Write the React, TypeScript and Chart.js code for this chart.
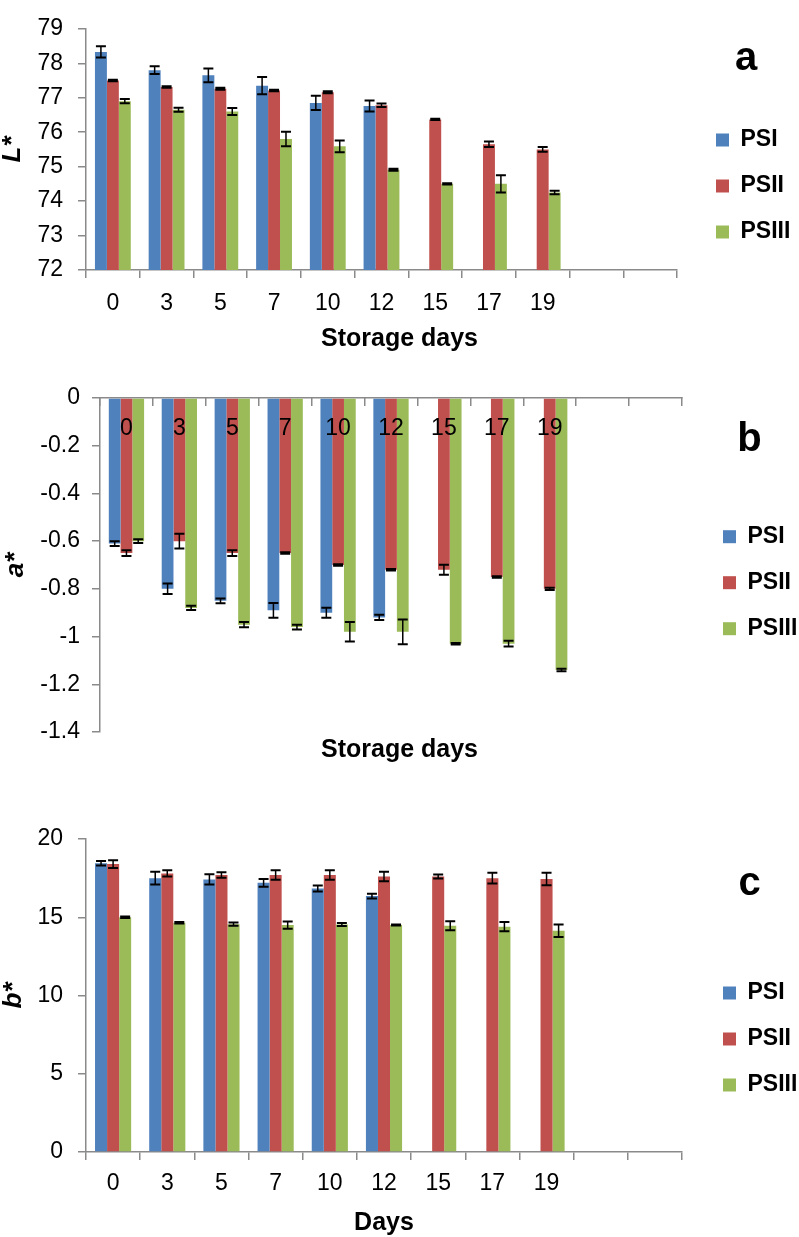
import React, { useEffect, useRef } from 'react';
import { Chart, registerables } from 'chart.js';

Chart.register(...registerables);

// ---------------- DATA ----------------
const storageDays = ['0', '3', '5', '7', '10', '12', '15', '17', '19', '', ''];
const seriesNames = ['PSI', 'PSII', 'PSIII'];

// Panel a: L*
const lStarPSI = [78.33, 77.8, 77.65, 77.35, 76.85, 76.76, null, null, null, null, null];
const lStarPSIErr = [0.16, 0.11, 0.2, 0.25, 0.21, 0.16, null, null, null, null, null];
const lStarPSII = [77.5, 77.31, 77.26, 77.21, 77.16, 76.78, 76.37, 75.65, 75.5, null, null];
const lStarPSIIErr = [0.02, 0.02, 0.03, 0.02, 0.03, 0.05, 0.02, 0.08, 0.07, null, null];
const lStarPSIII = [76.9, 76.65, 76.6, 75.8, 75.59, 74.91, 74.5, 74.5, 74.25, null, null];
const lStarPSIIIErr = [0.06, 0.06, 0.1, 0.21, 0.17, 0.03, 0.02, 0.25, 0.05, null, null];

// Panel b: a*
const aStarPSI = [-0.61, -0.8, -0.85, -0.89, -0.9, -0.92, null, null, null, null, null];
const aStarPSIErr = [0.01, 0.022, 0.01, 0.031, 0.021, 0.011, null, null, null, null, null];
const aStarPSII = [-0.65, -0.6, -0.65, -0.65, -0.7, -0.72, -0.72, -0.75, -0.8, null, null];
const aStarPSIIErr = [0.012, 0.031, 0.012, 0.003, 0.003, 0.003, 0.021, 0.003, 0.005, null, null];
const aStarPSIII = [-0.6, -0.88, -0.95, -0.96, -0.98, -0.98, -1.03, -1.03, -1.14, null, null];
const aStarPSIIIErr = [0.008, 0.009, 0.011, 0.01, 0.041, 0.052, 0.003, 0.012, 0.005, null, null];

// Panel c: b*
const bStarPSI = [18.45, 17.5, 17.42, 17.2, 16.84, 16.35, null, null, null, null, null];
const bStarPSIErr = [0.15, 0.4, 0.33, 0.25, 0.19, 0.15, null, null, null, null, null];
const bStarPSII = [18.4, 17.8, 17.7, 17.7, 17.7, 17.6, 17.6, 17.5, 17.44, null, null];
const bStarPSIIErr = [0.25, 0.2, 0.17, 0.3, 0.3, 0.3, 0.13, 0.35, 0.4, null, null];
const bStarPSIII = [15.0, 14.65, 14.56, 14.5, 14.54, 14.5, 14.46, 14.4, 14.14, null, null];
const bStarPSIIIErr = [0.05, 0.05, 0.1, 0.23, 0.1, 0.03, 0.29, 0.3, 0.4, null, null];

// ---------------- STYLE ----------------
const FONT = "'Liberation Sans', Arial, Helvetica, sans-serif";
const AXIS_COLOR = '#8a8a8a';
const SERIES_COLORS = ['#4F81BD', '#C0504D', '#9BBB59'];

Chart.defaults.font.family = FONT;
Chart.defaults.color = '#000';

const errorBarPlugin = {
  id: 'errorBars',
  afterDatasetsDraw(chart: any) {
    const ctx = chart.ctx;
    const yScale = chart.scales.y;
    chart.data.datasets.forEach((ds: any, di: number) => {
      const meta = chart.getDatasetMeta(di);
      const errs = ds.errors || [];
      meta.data.forEach((bar: any, i: number) => {
        const v = ds.data[i];
        const e = errs[i];
        if (v == null || e == null) return;
        const x = bar.x;
        const yTop = yScale.getPixelForValue(v + e);
        const yBot = yScale.getPixelForValue(v - e);
        const cap = 5;
        ctx.save();
        ctx.strokeStyle = '#000';
        ctx.lineWidth = 1.5;
        ctx.beginPath();
        ctx.moveTo(x, yTop);
        ctx.lineTo(x, yBot);
        ctx.stroke();
        ctx.lineWidth = 2;
        ctx.beginPath();
        ctx.moveTo(x - cap, yTop);
        ctx.lineTo(x + cap, yTop);
        ctx.moveTo(x - cap, yBot);
        ctx.lineTo(x + cap, yBot);
        ctx.stroke();
        ctx.restore();
      });
    });
  },
};

type PanelSpec = {
  key: string;
  top: number;
  height: number;
  values: (number | null)[][];
  errors: (number | null)[][];
  yMin: number;
  yMax: number;
  yStep: number;
  yDecimals: number;
  yTitle: string;
  yTitlePad: number;
  yAxisWidth: number;
  yTickPad: number;
  xTop: boolean;
  xTitle: string;
  xTitleAsChartTitle: boolean;
  chartTitlePad: { top: number; bottom: number };
  padTop: number;
  padBottom: number;
  xAxisHeight: number;
  xTickPad: number;
  rightGap: number;
  legendMaxWidth: number;
  letter: string;
  letterPadTop: number;
  letterPadBottom: number;
};

const panels: PanelSpec[] = [
  {
    key: 'a', top: 0, height: 360,
    values: [lStarPSI, lStarPSII, lStarPSIII],
    errors: [lStarPSIErr, lStarPSIIErr, lStarPSIIIErr],
    yMin: 72, yMax: 79, yStep: 1, yDecimals: 0,
    yTitle: 'L*', yTitlePad: 0, yAxisWidth: 86, yTickPad: 15,
    xTop: false, xTitle: 'Storage days', xTitleAsChartTitle: true,
    chartTitlePad: { top: 6.5, bottom: 8.5 },
    padTop: 15, padBottom: 0, xAxisHeight: 50, xTickPad: 11.7,
    rightGap: 16, legendMaxWidth: 106,
    letter: 'a', letterPadTop: 23.5, letterPadBottom: 27,
  },
  {
    key: 'b', top: 360, height: 420,
    values: [aStarPSI, aStarPSII, aStarPSIII],
    errors: [aStarPSIErr, aStarPSIIErr, aStarPSIIIErr],
    yMin: -1.4, yMax: 0, yStep: 0.2, yDecimals: 1,
    yTitle: 'a*', yTitlePad: 3, yAxisWidth: 100, yTickPad: 12,
    xTop: true, xTitle: 'Storage days', xTitleAsChartTitle: true,
    chartTitlePad: { top: 5.5, bottom: 17.5 },
    padTop: 36, padBottom: 0, xAxisHeight: 2, xTickPad: 16.7,
    rightGap: 18, legendMaxWidth: 99,
    letter: 'b', letterPadTop: 23.5, letterPadBottom: 42.7,
  },
  {
    key: 'c', top: 780, height: 457,
    values: [bStarPSI, bStarPSII, bStarPSIII],
    errors: [bStarPSIErr, bStarPSIIErr, bStarPSIIIErr],
    yMin: 0, yMax: 20, yStep: 5, yDecimals: 0,
    yTitle: 'b*', yTitlePad: 1, yAxisWidth: 86, yTickPad: 15,
    xTop: false, xTitle: 'Days', xTitleAsChartTitle: false,
    chartTitlePad: { top: 0, bottom: 0 },
    padTop: 59, padBottom: 1.5, xAxisHeight: 83.5, xTickPad: 10.2,
    rightGap: 18, legendMaxWidth: 99,
    letter: 'c', letterPadTop: 24.5, letterPadBottom: 55,
  },
];

function buildConfig(p: PanelSpec): any {
  const datasets = seriesNames.map((name, k) => ({
    label: name,
    data: p.values[k],
    errors: p.errors[k],
    backgroundColor: SERIES_COLORS[k],
    borderWidth: 0,
    categoryPercentage: 0.667,
    barPercentage: 1,
  }));

  const fmt = (v: number) => {
    const f = Math.pow(10, p.yDecimals);
    const r = Math.round(v * f) / f;
    return r === 0 ? '0' : String(r);
  };

  const titleFont = { family: FONT, size: 25, weight: 'bold', lineHeight: 1 };

  return {
    type: 'bar',
    data: { labels: storageDays, datasets },
    plugins: [errorBarPlugin],
    options: {
      responsive: false,
      animation: false,
      events: [],
      devicePixelRatio: 1,
      layout: { padding: { top: p.padTop, bottom: p.padBottom, left: 0, right: 0 } },
      scales: {
        x: {
          type: 'category',
          position: p.xTop ? 'top' : 'bottom',
          offset: true,
          grid: {
            display: true,
            offset: true,
            drawOnChartArea: false,
            drawTicks: true,
            tickLength: p.xTop ? -8 : 8,
            color: AXIS_COLOR,
            lineWidth: 1.5,
          },
          border: { display: true, color: AXIS_COLOR, width: 1.5 },
          ticks: {
            autoSkip: false,
            maxRotation: 0,
            minRotation: 0,
            mirror: p.xTop,
            padding: p.xTickPad,
            color: '#000',
            font: { family: FONT, size: 23 },
            z: 1,
          },
          title: p.xTitleAsChartTitle
            ? { display: false }
            : {
                display: true,
                text: p.xTitle,
                color: '#000',
                font: titleFont,
                padding: { top: 0, bottom: 0 },
              },
          afterFit: (s: any) => {
            s.height = p.xAxisHeight;
          },
        },
        y: {
          type: 'linear',
          position: 'left',
          min: p.yMin,
          max: p.yMax,
          grid: {
            display: true,
            drawOnChartArea: false,
            drawTicks: true,
            tickLength: 8,
            color: AXIS_COLOR,
            lineWidth: 1.5,
          },
          border: { display: true, color: AXIS_COLOR, width: 1.5 },
          ticks: {
            stepSize: p.yStep,
            padding: p.yTickPad,
            color: '#000',
            font: { family: FONT, size: 23 },
            callback: (v: number) => fmt(v),
          },
          title: {
            display: true,
            text: p.yTitle,
            color: '#000',
            font: { family: FONT, size: 26, weight: 'bold', style: 'italic', lineHeight: 1 },
            padding: { top: p.yTitlePad, bottom: 0 },
          },
          afterFit: (s: any) => {
            s.width = p.yAxisWidth;
          },
        },
        gap: {
          type: 'linear',
          position: 'right',
          display: true,
          grid: { display: false, drawTicks: false },
          border: { display: false },
          ticks: { display: false },
          afterFit: (s: any) => {
            s.width = p.rightGap;
          },
        },
      },
      plugins: {
        tooltip: { enabled: false },
        legend: {
          display: true,
          position: 'right',
          align: 'start',
          maxWidth: p.legendMaxWidth,
          labels: {
            boxWidth: 13,
            boxHeight: 13,
            padding: 23,
            color: '#000',
            font: { family: FONT, size: 23, weight: 'bold' },
          },
          title: {
            display: true,
            text: p.letter,
            position: 'center',
            color: '#000',
            font: { family: FONT, size: 40, weight: 'bold', lineHeight: 1 },
            padding: { top: p.letterPadTop, bottom: p.letterPadBottom },
          },
        },
        title: p.xTitleAsChartTitle
          ? {
              display: true,
              position: 'bottom',
              text: p.xTitle,
              color: '#000',
              font: titleFont,
              padding: p.chartTitlePad,
            }
          : { display: false },
      },
    },
  };
}

function Panel({ spec }: { spec: PanelSpec }) {
  const ref = useRef<HTMLCanvasElement | null>(null);
  useEffect(() => {
    if (!ref.current) return;
    const chart = new Chart(ref.current, buildConfig(spec));
    return () => chart.destroy();
  }, [spec]);
  return (
    <canvas
      ref={ref}
      width={799}
      height={spec.height}
      style={{ position: 'absolute', left: 0, top: spec.top, display: 'block', width: 799, height: spec.height }}
    />
  );
}

export default function App() {
  return (
    <div
      style={{
        position: 'absolute',
        left: 0,
        top: 0,
        width: 799,
        height: 1237,
        background: '#fff',
        overflow: 'hidden',
      }}
    >
      {panels.map((p) => (
        <Panel key={p.key} spec={p} />
      ))}
    </div>
  );
}
